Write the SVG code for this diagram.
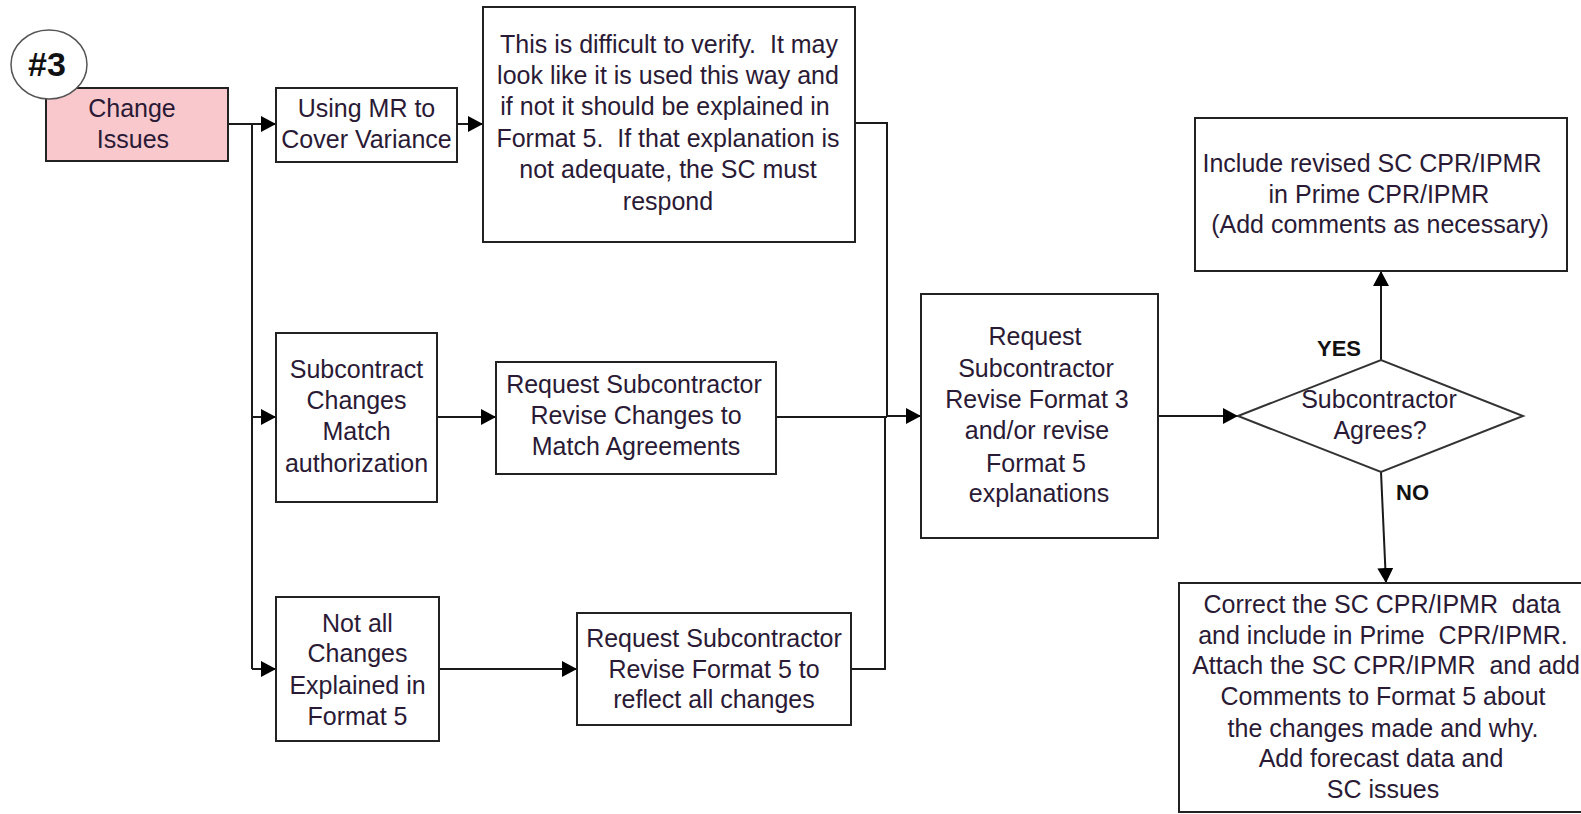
<svg xmlns="http://www.w3.org/2000/svg" width="1581" height="814" viewBox="0 0 1581 814">
  <style>
    .box { fill: #ffffff; stroke: #222222; stroke-width: 2; }
    .pink { fill: #f9c8cd; stroke: #222222; stroke-width: 2; }
    .badge { fill: #ffffff; stroke: #555555; stroke-width: 1.5; }
    .lbl { font-family: "Liberation Sans", Arial, sans-serif; font-size: 25px; fill: #2a1a35; text-anchor: middle; }
    .tag { font-family: "Liberation Sans", Arial, sans-serif; font-size: 22px; font-weight: bold; fill: #111111; }
    .num { font-family: "Liberation Sans", Arial, sans-serif; font-size: 34px; font-weight: bold; fill: #111111; text-anchor: middle; }
    .wire { fill: none; stroke: #1a1a1a; stroke-width: 2; }
    .arrow { fill: none; stroke: #1a1a1a; stroke-width: 2; marker-end: url(#head); }
  </style>
  <defs>
    <marker id="head" markerUnits="userSpaceOnUse" markerWidth="15" markerHeight="16" viewBox="0 0 15 16" refX="15" refY="8" orient="auto">
      <path d="M0,0 L15,8 L0,16 Z" fill="#000000"/>
    </marker>
  </defs>

  <rect width="1581" height="814" fill="#ffffff"/>

  <!-- connectors -->
  <g id="connectors">
    <line class="arrow" x1="228" y1="124" x2="276" y2="124"/>
    <line class="wire" x1="252" y1="124" x2="252" y2="669"/>
    <line class="arrow" x1="252" y1="417" x2="276" y2="417"/>
    <line class="arrow" x1="252" y1="669" x2="276" y2="669"/>
    <line class="arrow" x1="457" y1="124" x2="483" y2="124"/>
    <line class="arrow" x1="437" y1="417" x2="496" y2="417"/>
    <line class="arrow" x1="439" y1="669" x2="577" y2="669"/>
    <polyline class="arrow" points="855,123 887,123 887,416 921,416"/>
    <line class="wire" x1="776" y1="417" x2="887" y2="417"/>
    <polyline class="wire" points="851,669 885,669 885,416"/>
    <line class="arrow" x1="1158" y1="416" x2="1238" y2="416"/>
    <line class="arrow" x1="1381" y1="360" x2="1381" y2="271"/>
    <line class="arrow" x1="1381" y1="472" x2="1386" y2="583"/>
  </g>

  <!-- start: change issues -->
  <g id="change-issues">
    <rect class="pink" x="46" y="88" width="182" height="73"/>
    <text class="lbl" x="132" y="117">Change</text>
    <text class="lbl" x="133" y="148">Issues</text>
  </g>

  <g id="badge-3">
    <ellipse class="badge" cx="49" cy="64.5" rx="38" ry="34.5"/>
    <text class="num" x="47" y="76">#3</text>
  </g>

  <g id="using-mr">
    <rect class="box" x="276" y="88" width="181" height="74"/>
    <text class="lbl" x="366.5" y="117">Using MR to</text>
    <text class="lbl" x="366.5" y="148">Cover Variance</text>
  </g>

  <g id="hard-to-verify">
    <rect class="box" x="483" y="7" width="372" height="235"/>
    <text class="lbl" xml:space="preserve" x="669" y="53">This is difficult to verify.  It may</text>
    <text class="lbl" x="668" y="84">look like it is used this way and</text>
    <text class="lbl" x="665" y="115">if not it should be explained in</text>
    <text class="lbl" xml:space="preserve" x="668" y="147">Format 5.  If that explanation is</text>
    <text class="lbl" x="668" y="178">not adequate, the SC must</text>
    <text class="lbl" x="668" y="210">respond</text>
  </g>

  <g id="subcontract-changes">
    <rect class="box" x="276" y="333" width="161" height="169"/>
    <text class="lbl" x="356.5" y="378">Subcontract</text>
    <text class="lbl" x="356.5" y="409">Changes</text>
    <text class="lbl" x="356.5" y="440">Match</text>
    <text class="lbl" x="356.5" y="472">authorization</text>
  </g>

  <g id="revise-changes">
    <rect class="box" x="496" y="362" width="280" height="112"/>
    <text class="lbl" x="634" y="393">Request Subcontractor</text>
    <text class="lbl" x="636" y="424">Revise Changes to</text>
    <text class="lbl" x="636" y="455">Match Agreements</text>
  </g>

  <g id="not-all-explained">
    <rect class="box" x="276" y="597" width="163" height="144"/>
    <text class="lbl" x="357.5" y="632">Not all</text>
    <text class="lbl" x="357.5" y="662">Changes</text>
    <text class="lbl" x="357.5" y="694">Explained in</text>
    <text class="lbl" x="357.5" y="725">Format 5</text>
  </g>

  <g id="revise-format5">
    <rect class="box" x="577" y="613" width="274" height="112"/>
    <text class="lbl" x="714" y="647">Request Subcontractor</text>
    <text class="lbl" x="714" y="678">Revise Format 5 to</text>
    <text class="lbl" x="714" y="708">reflect all changes</text>
  </g>

  <g id="revise-format3">
    <rect class="box" x="921" y="294" width="237" height="244"/>
    <text class="lbl" x="1035" y="345">Request</text>
    <text class="lbl" x="1036" y="377">Subcontractor</text>
    <text class="lbl" x="1037" y="408">Revise Format 3</text>
    <text class="lbl" x="1037" y="439">and/or revise</text>
    <text class="lbl" x="1036" y="472">Format 5</text>
    <text class="lbl" x="1039" y="502">explanations</text>
  </g>

  <g id="agrees-decision">
    <polygon points="1238,416 1381,360 1523,416 1381,472" fill="#ffffff" stroke="#333333" stroke-width="2"/>
    <text class="lbl" x="1379" y="408">Subcontractor</text>
    <text class="lbl" x="1380" y="439">Agrees?</text>
    <text class="tag" x="1317" y="356">YES</text>
    <text class="tag" x="1396" y="500">NO</text>
  </g>

  <g id="include-revised">
    <rect class="box" x="1195" y="118" width="372" height="153"/>
    <text class="lbl" x="1372" y="172">Include revised SC CPR/IPMR</text>
    <text class="lbl" x="1379" y="203">in Prime CPR/IPMR</text>
    <text class="lbl" x="1380" y="233">(Add comments as necessary)</text>
  </g>

  <g id="correct-data">
    <rect class="box" x="1179" y="583" width="420" height="229"/>
    <text class="lbl" xml:space="preserve" x="1382" y="613">Correct the SC CPR/IPMR  data</text>
    <text class="lbl" xml:space="preserve" x="1383" y="644">and include in Prime  CPR/IPMR.</text>
    <text class="lbl" xml:space="preserve" x="1386" y="674">Attach the SC CPR/IPMR  and add</text>
    <text class="lbl" x="1383" y="705">Comments to Format 5 about</text>
    <text class="lbl" x="1383" y="737">the changes made and why.</text>
    <text class="lbl" x="1381" y="767">Add forecast data and</text>
    <text class="lbl" x="1383" y="798">SC issues</text>
  </g>
</svg>
